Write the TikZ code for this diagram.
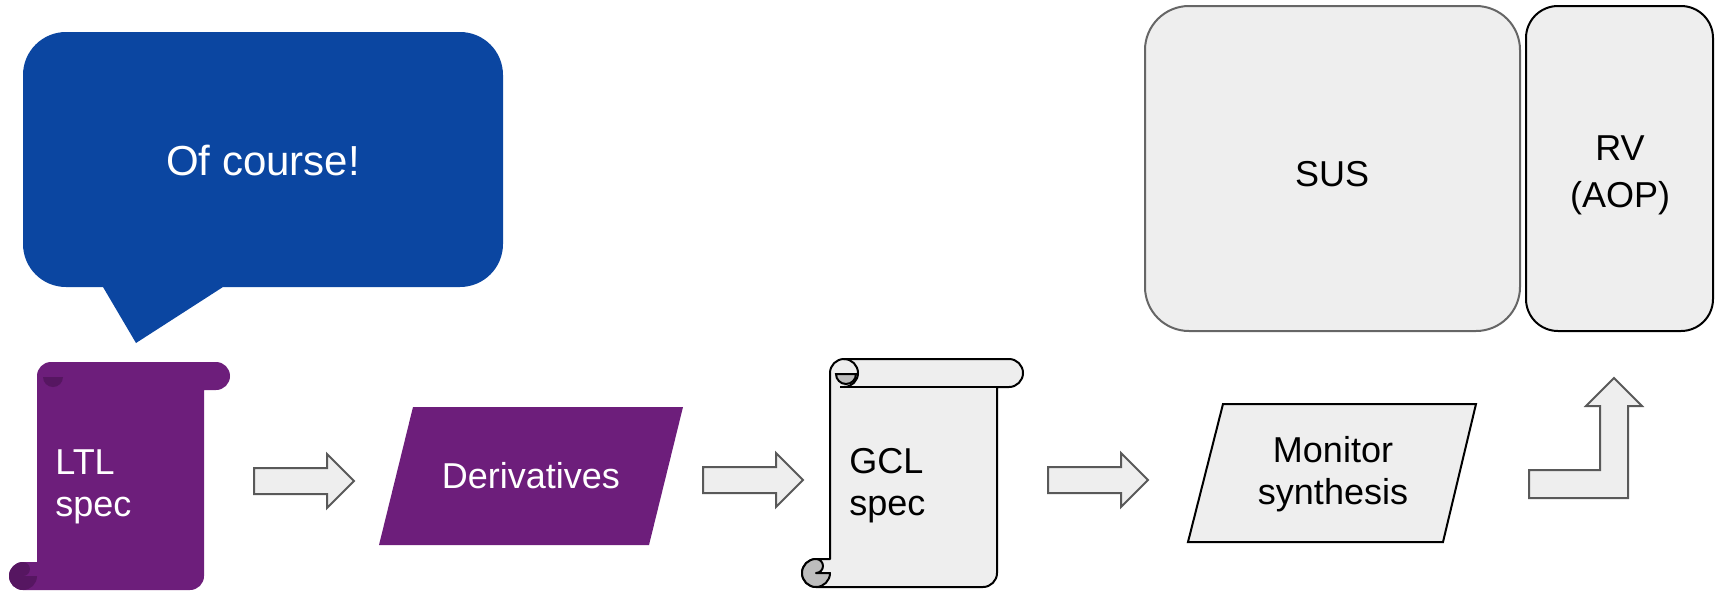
\documentclass[tikz,border=0pt]{standalone}
\usepackage{fontspec}
\setmainfont{Liberation Sans}

\definecolor{specpurple}{HTML}{6D1E7B}
\definecolor{curlpurple}{HTML}{561661}
\definecolor{bubbleblue}{HTML}{0B46A1}
\definecolor{boxgray}{HTML}{EEEEEE}
\definecolor{curlgray}{HTML}{BDBDBD}
\definecolor{arrowgray}{HTML}{595959}

\tikzset{
  lbl/.style={font=\fontsize{18}{21}\selectfont,inner sep=0pt},
  blockbox/.style={draw,line width=1pt,fill=boxgray,rounded corners=#1},
  pics/specscroll/.style n args={3}{code={
    \path[fill=#1,draw=#3,line width=1pt,line join=round]
      (0,-200) -- (0,-14) arc (180:90:14) -- (179,0) arc (90:-90:14)
      -- (167,-28) -- (167,-214) arc (0:-90:14) -- (-14,-228)
      arc (-90:-270:14) -- cycle;
    \path[draw=#3,line width=1pt] (10,-28) -- (167,-28);
    \path[fill=#2,draw=#3,line width=1pt] (6,-15) arc (180:360:10) -- cycle;
    \path[draw=#3,line width=1pt] (14,0) arc (90:-90:14);
    \path[fill=#2,draw=#3,line width=1pt,line join=round]
      (-14,-228) arc (-90:-270:14) arc (90:-90:7) -- (0,-214)
      arc (0:-90:14) -- cycle;
  }},
  pics/blockarrow/.style={code={
    \path[draw=arrowgray,fill=boxgray,line width=1pt]
      (0,-13) -- (73,-13) -- (73,-27) -- (100,0) -- (73,27) -- (73,13)
      -- (0,13) -- cycle;
  }}
}

\begin{document}
\begin{tikzpicture}[x=0.5pt,y=0.5pt]
  \useasboundingbox (0,0) rectangle (1715,-590);

  % speech bubble
  \path[fill=bubbleblue] (66,-32) -- (460,-32) arc (90:0:43) -- (503,-244)
    arc (0:-90:43) -- (223,-287) -- (136,-343) -- (103,-287) -- (66,-287)
    arc (270:180:43) -- (23,-75) arc (180:90:43) -- cycle;
  \node[lbl,font=\fontsize{21}{24}\selectfont,text=white] (bubble) at (263,-161) {Of course!};

  % scrolls and parallelograms
  \pic at (37,-362) {specscroll={specpurple}{curlpurple}{none}};
  \pic at (830,-359) {specscroll={boxgray}{curlgray}{black}};
  \path[fill=specpurple] (413,-407) -- (683,-407) -- (649,-545) -- (379,-545) -- cycle;
  \path[draw,fill=boxgray,line width=1pt] (1223,-404) -- (1476,-404) -- (1443,-542) -- (1188,-542) -- cycle;

  \pic at (254,-481) {blockarrow};
  \pic at (703,-480) {blockarrow};
  \pic at (1048,-480) {blockarrow};
  \path[draw=arrowgray,fill=boxgray,line width=1pt] (1529,-498) -- (1529,-470)
    -- (1600,-470) -- (1600,-406) -- (1586,-406) -- (1614,-378) -- (1642,-406)
    -- (1628,-406) -- (1628,-498) -- cycle;

  \node[lbl,text=white,align=left,anchor=base west] (ltl) at (55,-516) {LTL\\spec};
  \node[lbl,text=white] (deriv) at (531,-476) {Derivatives};
  \node[lbl,align=left,anchor=base west] (gcl) at (849,-515) {GCL\\spec};
  \node[lbl,align=center,anchor=base] (monitor) at (1333,-504) {Monitor\\synthesis};

  \node[blockbox=22pt,draw=black!60,minimum width=187.5pt,minimum height=162.5pt] (sus) at (1332.5,-168.5) {};
  \node[blockbox=16pt,minimum width=93.5pt,minimum height=162.5pt] (rv) at (1619.5,-168.5) {};
  \node[lbl,anchor=base] (sustext) at (1332,-186) {SUS};
  \node[lbl,font=\fontsize{18}{23.5}\selectfont,align=center,anchor=base] (rvtext) at (1620,-207) {RV\\(AOP)};

\end{tikzpicture}
\end{document}
